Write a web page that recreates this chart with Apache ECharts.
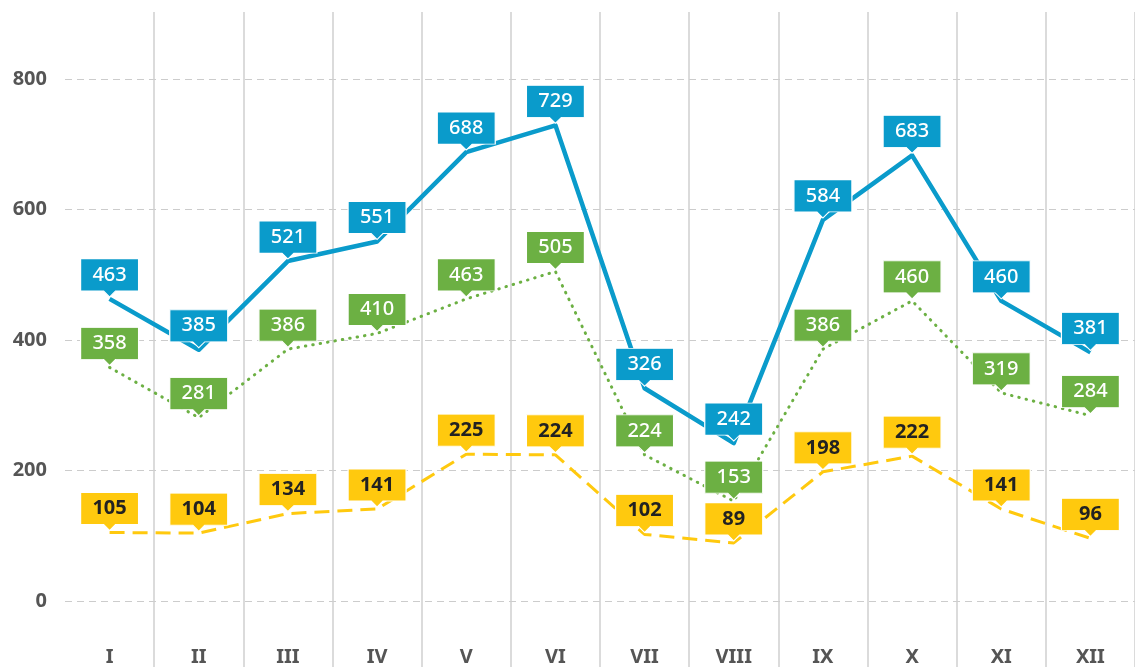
<!DOCTYPE html>
<html>
<head>
<meta charset="utf-8">
<script src="https://cdn.jsdelivr.net/npm/echarts@6/dist/echarts.min.js"></script>
<style>
html,body{margin:0;padding:0;background:#fff;}
#chart{width:1135px;height:667px;}
</style>
</head>
<body>
<div id="chart"></div>
<script>
const months = ['I','II','III','IV','V','VI','VII','VIII','IX','X','XI','XII'];
const blueValues = [463,385,521,551,688,729,326,242,584,683,460,381];
const greenValues = [358,281,386,410,463,505,224,153,386,460,319,284];
const yellowValues = [105,104,134,141,225,224,102,89,198,222,141,96];
const yTicks = [0,200,400,600,800];

const BLUE = '#0a9bcb', GREEN = '#6cb043', YELLOW = '#ffc90e';
const FONT = '"Noto Sans", sans-serif';
const calloutPath = 'path://M0,0H58V32H35L29,38L23,32H0Z';

function callouts(values, color, textColor, weight) {
  return {
    symbol: calloutPath,
    symbolSize: [58, 38],
    symbolOffset: [0, -21],
    silent: true,
    itemStyle: { color: color, borderColor: '#fff', borderWidth: 1 },
    label: { show: true, color: textColor, fontSize: 20, fontWeight: weight, fontFamily: FONT, offset: [0, -3] },
    data: values.map((v, i) => ({ coord: [i, v], value: v }))
  };
}

const chart = echarts.init(document.getElementById('chart'));
chart.setOption({
  animation: false,
  backgroundColor: '#fff',
  grid: [
    { left: 65, right: -3, top: 79, bottom: 63 },
    { left: 65, right: -3, top: 12, bottom: -10 }
  ],
  xAxis: [
    {
      gridIndex: 0, type: 'category', data: months, boundaryGap: true,
      axisLine: { show: false }, axisTick: { show: false }, splitLine: { show: false },
      axisLabel: { margin: 46, color: '#555', fontSize: 20, fontWeight: 'bold', fontFamily: FONT }
    },
    {
      gridIndex: 1, type: 'category', data: months, boundaryGap: true,
      axisLine: { show: false }, axisTick: { show: false }, axisLabel: { show: false },
      splitLine: { show: true, interval: (i) => i !== 0, lineStyle: { color: '#cfcfcf', width: 1.5 } }
    }
  ],
  yAxis: [
    {
      gridIndex: 0, type: 'value', min: 0, max: 800, interval: 200,
      axisLine: { show: false }, axisTick: { show: false },
      axisLabel: { margin: 18, color: '#555', fontSize: 20, fontWeight: 'bold', fontFamily: FONT,
        formatter: v => yTicks.includes(v) ? String(v) : '' },
      splitLine: { show: true, lineStyle: { color: '#cccccc', width: 1, type: [7, 5] } }
    },
    { gridIndex: 1, type: 'value', show: false, min: 0, max: 1 }
  ],
  series: [
    {
      type: 'line', xAxisIndex: 0, yAxisIndex: 0, data: yellowValues, smooth: false,
      showSymbol: false, lineStyle: { color: YELLOW, width: 3, type: [15, 8] },
      itemStyle: { color: YELLOW },
      markPoint: callouts(yellowValues, YELLOW, '#222', 'bold')
    },
    {
      type: 'line', xAxisIndex: 0, yAxisIndex: 0, data: greenValues, smooth: false,
      showSymbol: false, lineStyle: { color: GREEN, width: 3, type: [0.5, 7], cap: 'round' },
      itemStyle: { color: GREEN },
      markPoint: callouts(greenValues, GREEN, '#fff', 500)
    },
    {
      type: 'line', xAxisIndex: 0, yAxisIndex: 0, data: blueValues, smooth: false,
      showSymbol: false, lineStyle: { color: BLUE, width: 4.5, join: 'round' },
      itemStyle: { color: BLUE },
      markPoint: callouts(blueValues, BLUE, '#fff', 500)
    }
  ]
});
</script>
</body>
</html>
